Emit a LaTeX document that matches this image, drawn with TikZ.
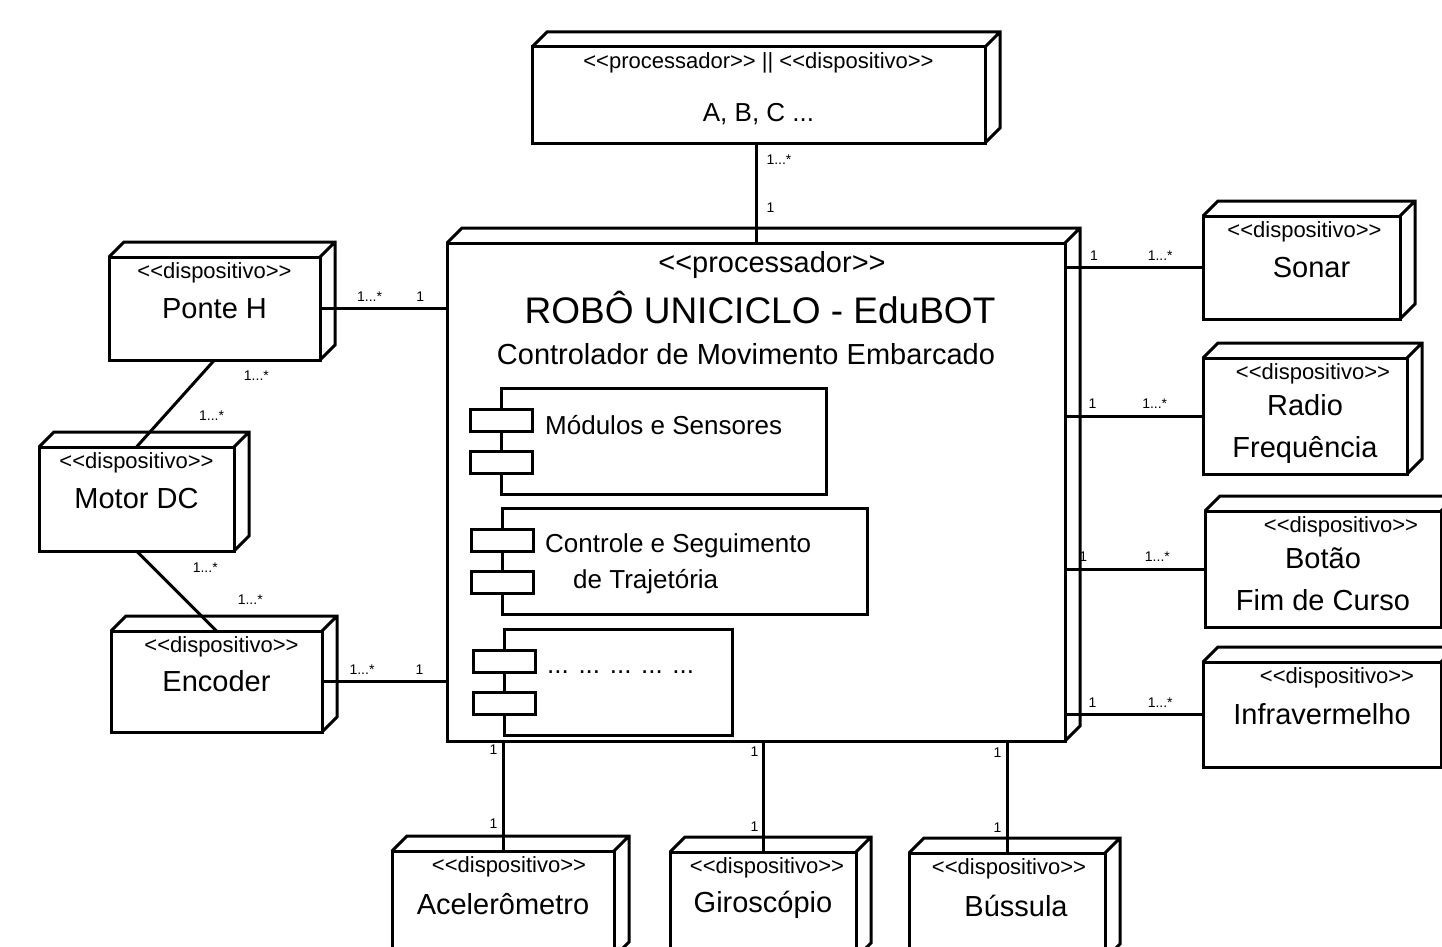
\documentclass[tikz,border=0pt]{standalone}
\usepackage{fontspec}
\usetikzlibrary{positioning}
\newfontfamily\helv{Liberation Sans}
\newcommand{\disp}{<<dispositivo>>}

\begin{document}
\begin{tikzpicture}[x=1pt,y=-1pt,font=\helv,
    linha/.style={line width=3pt},
    caixa/.style={draw,linha,rectangle,inner sep=0pt,outer sep=0pt,align=center,
      font=\helv\fontsize{29}{42}\selectfont},
    estereo/.style={anchor=north,yshift=-3pt,inner sep=2pt,font=\helv\fontsize{22}{26}\selectfont},
    dispo/.style={caixa,label={[estereo,xshift=#1]north:\disp}},
    dispo/.default=0pt,
    modulo/.style={draw,linha,rectangle,inner sep=0pt,outer sep=0pt,minimum height=106pt},
    rotmod/.style={anchor=west,inner sep=0pt,align=left,font=\helv\fontsize{26}{36}\selectfont},
    mult/.style={inner sep=1pt,font=\helv\fontsize{14}{16}\selectfont}]
  \useasboundingbox (0,0) rectangle (1442,947);
  \clip (0,0) rectangle (1442,947);

  % nos
  \node[caixa,minimum width=453pt,minimum height=96pt,text height=57pt,text depth=4pt,
    font=\helv\fontsize{26}{30}\selectfont,
    label={[estereo]north:{<<processador>> || <<dispositivo>>}}] (topo) at (758.5,95) {A, B, C ...};
  \node[caixa,minimum width=618pt,minimum height=498pt] (robo) at (756,492) {};
  \node[dispo,minimum width=211pt,minimum height=103pt] (ponte) at (214.5,308.5) {Ponte H};
  \node[dispo,minimum width=195pt,minimum height=104pt] (motor) at (136.5,499) {Motor DC};
  \node[dispo=5pt,minimum width=211pt,minimum height=101pt] (encoder) at (216.5,681.5) {Encoder};
  \node[dispo=3pt,minimum width=197pt,minimum height=103pt] (sonar) at (1301.5,267.5) {\hspace*{20pt}Sonar};
  \node[dispo=8pt,minimum width=204pt,minimum height=116pt,text height=88pt,text depth=6pt] (radio) at (1305,416) {Radio\\Frequência};
  \node[dispo=18pt,minimum width=236pt,minimum height=116pt,text height=88pt,text depth=6pt] (botao) at (1323,569) {Botão\\Fim de Curso};
  \node[dispo=15pt,minimum width=238pt,minimum height=105pt] (infra) at (1322,714.5) {Infravermelho};
  \node[dispo=6pt,minimum width=222pt,minimum height=106pt] (acel) at (503,904) {Acelerômetro};
  \node[dispo=4pt,minimum width=186pt,minimum height=106pt] (giro) at (763,905) {Giroscópio};
  \node[dispo=2pt,minimum width=196pt,minimum height=106pt] (bussola) at (1007,906) {\hspace*{18pt}Bússula};

  % profundidade das caixas
  \foreach \n in {topo,robo,ponte,motor,encoder,sonar,radio,botao,infra,acel,giro,bussola}
    \draw[linha] (\n.north west) -- ++(15,-15) -| ([shift={(15,-15)}]\n.south east) -- (\n.south east)
      (\n.north east) -- ++(15,-15);

  % textos do processador
  \node[font=\helv\fontsize{29}{34}\selectfont] (estrobo) at (772,265) {<<processador>>};
  \node[font=\helv\fontsize{37}{42}\selectfont] (titulo) at (760,308) {ROBÔ UNICICLO - EduBOT};
  \node[font=\helv\fontsize{29}{34}\selectfont] (subtitulo) at (746,354) {Controlador de Movimento Embarcado};

  % componentes
  \node[modulo,minimum width=325pt] (sens) at (663.5,441) {};
  \node[modulo,minimum width=365pt] (traj) at (684.5,561) {};
  \node[modulo,minimum width=228pt] (outros) at (618,682) {};
  \foreach \c in {sens,traj,outros} {
    \draw[linha,fill=white] ([shift={(-31,21)}]\c.north west) rectangle ++(62,22);
    \draw[linha,fill=white] ([shift={(-31,63)}]\c.north west) rectangle ++(62,22);
  }
  \node[rotmod] (tsens) at ([shift={(44,37)}]sens.north west) {Módulos e Sensores};
  \node[rotmod] (ttraj) at ([shift={(43,56)}]traj.north west) {Controle e Seguimento\\\hspace*{28pt}de Trajetória};
  \node[rotmod] (toutros) at ([shift={(43,43)}]outros.north west) {... ... ... ... ...};

  % ligacoes
  \draw[linha] (topo.south -| robo.north) -- (robo.north)
    node[mult,pos=0.17,right=8pt] {1...*} node[mult,pos=0.65,right=8pt] {1};
  \draw[linha] (ponte.east) -- (ponte.east -| robo.west)
    node[mult,pos=0.39,above=5pt] {1...*} node[mult,pos=0.79,above=5pt] {1};
  \draw[linha] (encoder.east) -- (encoder.east -| robo.west)
    node[mult,pos=0.32,above=5pt] {1...*} node[mult,pos=0.78,above=5pt] {1};
  \draw[linha] (ponte.south) -- (motor.north)
    node[mult,pos=0.18,right=41pt] {1...*} node[mult,pos=0.64,right=32pt] {1...*};
  \draw[linha] (motor.south) -- (encoder.north)
    node[mult,pos=0.21,right=37pt] {1...*} node[mult,pos=0.61,right=50pt] {1...*};
  \draw[linha] (robo.east |- sonar.west) -- (sonar.west)
    node[mult,pos=0.21,above=5pt] {1} node[mult,pos=0.69,above=5pt] {1...*};
  \draw[linha] (robo.east |- radio.west) -- (radio.west)
    node[mult,pos=0.20,above=5pt] {1} node[mult,pos=0.65,above=5pt] {1...*};
  \draw[linha] (robo.east |- botao.west) -- (botao.west)
    node[mult,pos=0.13,above=5pt] {1} node[mult,pos=0.66,above=5pt] {1...*};
  \draw[linha] (robo.east |- infra.west) -- (infra.west)
    node[mult,pos=0.20,above=5pt] {1} node[mult,pos=0.69,above=5pt] {1...*};
  \draw[linha] (acel.north |- robo.south) -- (acel.north)
    node[mult,pos=0.08,left=3pt] {1} node[mult,pos=0.75,left=3pt] {1};
  \draw[linha] (giro.north |- robo.south) -- (giro.north)
    node[mult,pos=0.10,left=2pt] {1} node[mult,pos=0.77,left=2pt] {1};
  \draw[linha] (bussola.north |- robo.south) -- (bussola.north)
    node[mult,pos=0.10,left=3pt] {1} node[mult,pos=0.77,left=3pt] {1};
\end{tikzpicture}
\end{document}
